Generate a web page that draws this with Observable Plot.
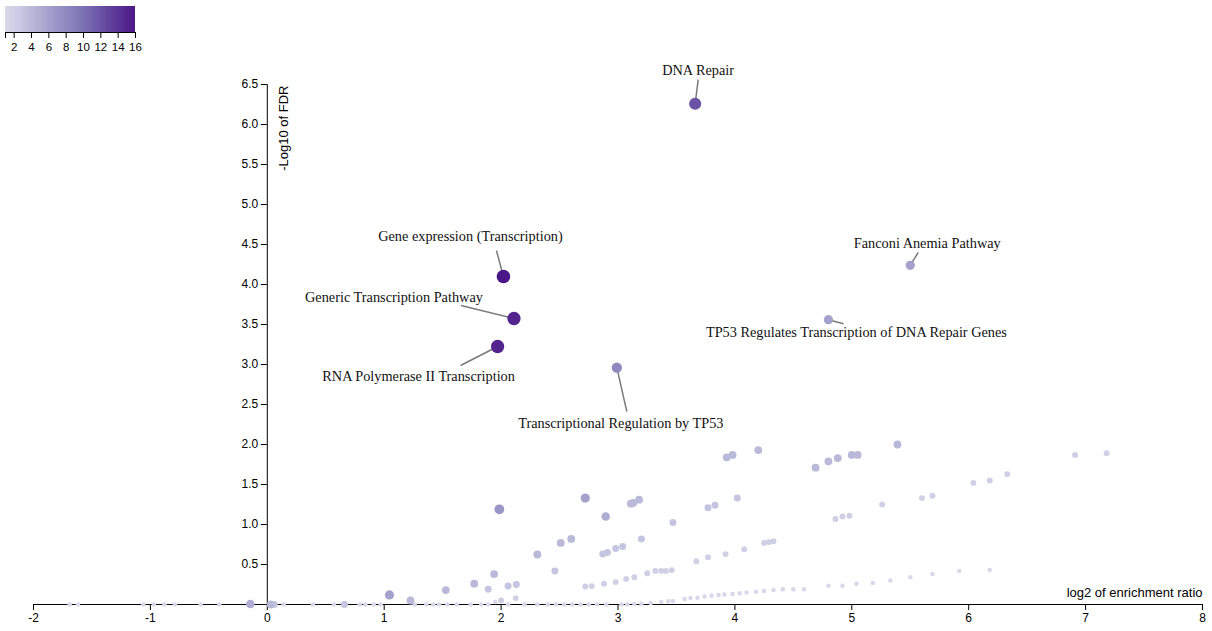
<!DOCTYPE html>
<html>
<head>
<meta charset="utf-8">
<script src="https://cdn.jsdelivr.net/npm/d3@7"></script>
<script src="https://cdn.jsdelivr.net/npm/@observablehq/plot@0.6"></script>
<style>
html, body { margin: 0; padding: 0; background: #fff; }
#wrap { position: relative; width: 1212px; height: 631px; overflow: hidden; }
#wrap > svg { position: absolute; left: 0; top: 0; max-width: none; }
</style>
</head>
<body>
<div id="wrap"></div>
<script>
// ---------- DATA ----------
// Tick values
const xTicks = [-2, -1, 0, 1, 2, 3, 4, 5, 6, 7, 8];
const yTicks = [0.5, 1.0, 1.5, 2.0, 2.5, 3.0, 3.5, 4.0, 4.5, 5.0, 5.5, 6.0, 6.5];
const legendTicks = [2, 4, 6, 8, 10, 12, 14, 16];

// Unlabeled gene sets, grouped by overlap (colour value)
const overlap1_log2ER = [-1.69, -1.62, -1.06, -0.97, -0.88, -0.79, -0.57, -0.41, 0.14, 0.39, 0.57, 0.79, 0.84, 0.91, 0.97,
  1.26, 1.36, 1.42, 1.47, 1.54, 1.62, 1.74, 1.83, 1.89, 1.95, 2.06, 2.20, 2.31, 2.40, 2.47, 2.54, 2.61, 2.68, 2.75, 2.82, 2.90, 3.03, 3.08,
  3.14, 3.20, 3.28, 3.37, 3.43, 3.47, 3.57, 3.62, 3.68, 3.74, 3.80, 3.86, 3.91, 3.98, 4.04, 4.10, 4.18, 4.25, 4.33, 4.41, 4.50, 4.59,
  4.80, 4.92, 5.04, 5.18, 5.33, 5.50, 5.69, 5.92, 6.18];
const overlap1_negLog10FDR = [0, 0, 0, 0, 0, 0, 0, 0, 0, 0, 0, 0, 0, 0, 0,
  0, 0, 0, 0, 0, 0, 0, 0, 0, 0.03, 0, 0, 0, 0, 0, 0, 0, 0, 0, 0, 0, 0, 0,
  0.005, 0.01, 0.02, 0.03, 0.04, 0.045, 0.07, 0.08, 0.085, 0.10, 0.11, 0.12, 0.125, 0.13, 0.14, 0.15, 0.16, 0.17, 0.18, 0.19, 0.19, 0.19,
  0.235, 0.235, 0.26, 0.27, 0.30, 0.34, 0.38, 0.42, 0.43];

const overlap2_log2ER = [2.00, 2.125, 2.72, 2.775, 2.88, 2.98, 3.07, 3.14, 3.25, 3.32, 3.37, 3.41, 3.46, 3.67, 3.77, 3.92, 4.08,
  4.25, 4.29, 4.33, 4.86, 4.92, 4.98, 5.26, 5.60, 5.69, 6.04, 6.18, 6.33, 6.91, 7.18];
const overlap2_negLog10FDR = [0.05, 0.08, 0.225, 0.23, 0.26, 0.28, 0.32, 0.34, 0.39, 0.42, 0.42, 0.42, 0.43, 0.54, 0.59, 0.63, 0.69,
  0.77, 0.78, 0.79, 1.07, 1.10, 1.11, 1.25, 1.33, 1.36, 1.52, 1.55, 1.63, 1.87, 1.89];

const overlap3_log2ER = [0.06, 0.66, 1.89, 2.06, 2.13, 2.46, 2.87, 2.91, 2.98, 3.04, 3.20, 3.47, 3.77, 3.83, 4.02];
const overlap3_negLog10FDR = [0, 0, 0.19, 0.23, 0.25, 0.42, 0.63, 0.65, 0.70, 0.725, 0.82, 1.025, 1.21, 1.24, 1.33];

const overlap4_log2ER = [0.03, 1.225, 1.527, 1.77, 1.94, 2.31, 2.51, 2.60, 3.11, 3.13, 3.18, 3.93, 3.98, 4.20, 4.69, 4.80, 4.88, 5.00, 5.05, 5.39];
const overlap4_negLog10FDR = [0, 0.05, 0.18, 0.26, 0.38, 0.625, 0.77, 0.82, 1.26, 1.27, 1.31, 1.84, 1.87, 1.93, 1.71, 1.79, 1.83, 1.87, 1.87, 2.00];

const overlapMid_log2ER = [-0.145, 2.895, 1.045, 2.72, 1.985];
const overlapMid_negLog10FDR = [0.005, 1.10, 0.12, 1.33, 1.19];
const overlapMid_overlap = [5, 5, 6, 6, 7];

// Labeled gene sets
const labelNames = ["DNA Repair", "Gene expression (Transcription)", "Generic Transcription Pathway",
  "RNA Polymerase II Transcription", "Transcriptional Regulation by TP53", "Fanconi Anemia Pathway",
  "TP53 Regulates Transcription of DNA Repair Genes"];
const labelLog2ER = [3.66, 2.02, 2.11, 1.97, 2.99, 5.50, 4.80];
const labelNegLog10FDR = [6.26, 4.10, 3.575, 3.225, 2.96, 4.24, 3.56];
const labelOverlap = [12, 16, 15, 15, 8, 6, 6];

// ---------- LAYOUT (pixels, not data) ----------
const W = 1212, H = 631;
const M = {top: 84, right: 10, bottom: 27, left: 33};
const xDomain = [-2, 8], yDomain = [0, 6.5];
// label text-centre offsets and leader-line end offsets from the dot, in px
const labelTextOffset = [[3, -33], [-33, -40], [-120, -21], [-79, 30], [4, 56], [17, -22], [28, 13]];
const labelLineOffset = [[3, -24], [-7, -26], [-53, -13], [-37, 19], [10, 44], [8, -13], [15, 4]];

const sans = "'Liberation Sans', Arial, Helvetica, sans-serif";
const serif = "'Liberation Serif', 'Times New Roman', Times, serif";

const colorOpts = {
  type: "linear",
  domain: [1, 16],
  interpolate: t => d3.interpolatePurples(0.25 + 0.68 * t)
};

// ---------- TABLES ----------
const points = [];
function addGroup(xs, ys, ov) {
  xs.forEach((x, i) => points.push({x, y: ys[i], overlap: Array.isArray(ov) ? ov[i] : ov}));
}
addGroup(overlap1_log2ER, overlap1_negLog10FDR, 1);
addGroup(overlap2_log2ER, overlap2_negLog10FDR, 2);
addGroup(overlap3_log2ER, overlap3_negLog10FDR, 3);
addGroup(overlap4_log2ER, overlap4_negLog10FDR, 4);
addGroup(overlapMid_log2ER, overlapMid_negLog10FDR, overlapMid_overlap);

const xPix = d3.scaleLinear(xDomain, [M.left, W - M.right]);
const yPix = d3.scaleLinear(yDomain, [H - M.bottom, M.top]);

const labeled = labelNames.map((name, i) => {
  const x = labelLog2ER[i], y = labelNegLog10FDR[i];
  const px = xPix(x), py = yPix(y);
  return {
    name, x, y, overlap: labelOverlap[i],
    tx: xPix.invert(px + labelTextOffset[i][0]), ty: yPix.invert(py + labelTextOffset[i][1]),
    lx: xPix.invert(px + labelLineOffset[i][0]), ly: yPix.invert(py + labelLineOffset[i][1])
  };
});
labeled.forEach(d => points.push({x: d.x, y: d.y, overlap: d.overlap}));

// ---------- MAIN PLOT ----------
const main = Plot.plot({
  width: W, height: H,
  marginTop: M.top, marginRight: M.right, marginBottom: M.bottom, marginLeft: M.left,
  style: {background: "transparent", fontFamily: sans, color: "#000", overflow: "visible"},
  x: {domain: xDomain},
  y: {domain: yDomain, axis: null},
  r: {type: "pow", exponent: 0.4, domain: [0, 16], range: [0, 6.8]},
  color: colorOpts,
  marks: [
    Plot.ruleY([0], {stroke: "#000", strokeWidth: 1}),
    Plot.axisX({ticks: xTicks, tickFormat: d => String(d), tickSize: 6, tickPadding: 3, fontSize: 12, label: null, fontFamily: sans}),
    Plot.ruleX([0], {stroke: "#000", strokeWidth: 1}),
    Plot.ruleY(yTicks, {y: d => d, x1: 0, x2: 0, insetLeft: -6, stroke: "#000"}),
    Plot.text(yTicks, {x: 0, y: d => d, text: d => d.toFixed(1), textAnchor: "end", dx: -9, fontSize: 12, fontFamily: sans, fill: "#000"}),
    Plot.text(["-Log10 of FDR"], {x: 0, frameAnchor: "top", text: d => d, rotate: -90, textAnchor: "end", dx: 11, dy: 1, fontSize: 13, fontFamily: sans, fill: "#000"}),
    Plot.text(["log2 of enrichment ratio"], {frameAnchor: "bottom-right", text: d => d, textAnchor: "end", dy: -8, fontSize: 13, fontFamily: sans, fill: "#000"}),
    Plot.link(labeled, {x1: "x", y1: "y", x2: "lx", y2: "ly", stroke: "#7a7a7a", strokeWidth: 1.5}),
    Plot.dot(points, {x: "x", y: "y", r: "overlap", fill: "overlap", sort: null}),
    Plot.text(labeled, {x: "tx", y: "ty", text: "name", fontFamily: serif, fontSize: 14.3, fill: "#111"})
  ]
});
document.getElementById("wrap").appendChild(main);

// ---------- COLOUR LEGEND ----------
const rampStops = d3.range(1, 16, 0.1);
const legend = Plot.plot({
  width: 140, height: 58,
  marginTop: 6, marginRight: 5, marginBottom: 26, marginLeft: 5,
  style: {background: "transparent", fontFamily: sans, color: "#000", overflow: "visible"},
  x: {domain: [1, 16]},
  y: {domain: [0, 1], axis: null},
  color: colorOpts,
  marks: [
    Plot.rect(rampStops, {x1: d => d, x2: d => Math.min(16, d + 0.2), y1: 0, y2: 1, fill: d => d, shapeRendering: "crispEdges"}),
    Plot.ruleY([0], {stroke: "#000"}),
    Plot.axisX({ticks: [1, ...legendTicks], tickFormat: d => d === 1 ? "" : String(d), tickSize: 6, tickPadding: 4, fontSize: 11.5, label: null, fontFamily: sans})
  ]
});
document.getElementById("wrap").appendChild(legend);
</script>
</body>
</html>
